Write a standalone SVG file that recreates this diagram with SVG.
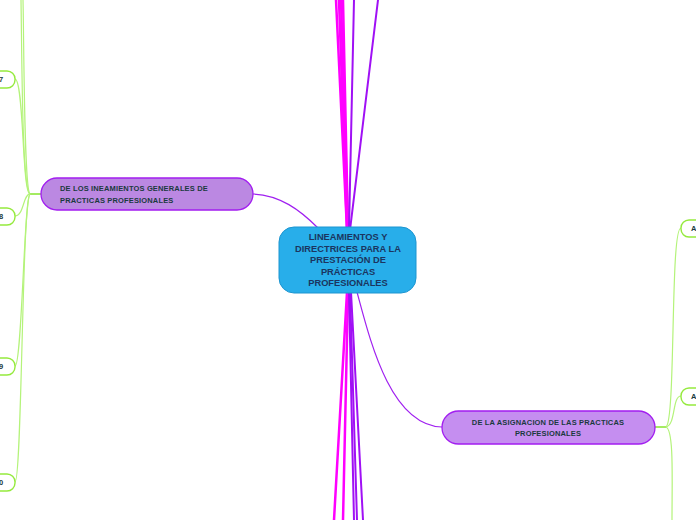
<svg xmlns="http://www.w3.org/2000/svg" width="696" height="520" viewBox="0 0 696 520">
<style>
.mg{fill:none;stroke:#ff00ff;stroke-width:2.5;stroke-linecap:round}
.pu{fill:none;stroke:#a010f5;stroke-width:2;stroke-linecap:round}
.pt{fill:none;stroke:#a020f0;stroke-width:1.2}
.gl{fill:none;stroke:#b4f37a;stroke-width:1.2}
.gs{fill:none;stroke:#8ee63a;stroke-width:1.6}
.leaf{fill:#ffffff;stroke:#95ea3e;stroke-width:1.4}
.lt{font-family:"Liberation Sans",Arial,sans-serif;font-weight:bold;font-size:7.5px;fill:#1b3a40}
.sub{fill:#bb88e2;stroke:#a21df0;stroke-width:1.3}
.subr{fill:#c58ef0;stroke:#a21df0;stroke-width:1.3}
.st{font-family:"Liberation Sans",Arial,sans-serif;font-weight:bold;font-size:7.5px;letter-spacing:0.15px;fill:#1a3a3e}
.ct{font-family:"Liberation Sans",Arial,sans-serif;font-weight:bold;font-size:9.3px;fill:#1b3560;text-anchor:middle}
</style>
<g id="connectors">
<path class="mg" d="M347,230 L336,0"/>
<path class="mg" d="M347,230 L339,0"/>
<path class="mg" d="M348,230 L341,0"/>
<path class="mg" d="M348,230 L343,0"/>
<path class="pu" d="M349,230 L354,0"/>
<path class="pu" d="M350,230 L378,0"/>
<path class="mg" d="M347,292 L334,520"/>
<path class="mg" d="M348,292 L343,520"/>
<path class="pu" d="M349,292 L354,520"/>
<path class="pu" d="M350,292 L357,520"/>
<path class="pu" d="M351,292 L363,520"/>
<path class="pt" d="M318,228 C300,210 280,195 253,194"/>
<path class="pt" d="M357,292 C370,340 390,425 442,427"/>
<path class="gs" d="M41,194 L30,194"/>
<path class="gl" d="M30,194 C22,190 22,60 21,0"/>
<path class="gl" d="M30,194 C24,190 24,40 23,0"/>
<path class="gl" d="M30,194 C22,194 24,79 15,79"/>
<path class="gl" d="M30,194 C23,194 24,216 15,216"/>
<path class="gl" d="M30,194 C24,198 22,366 15,366"/>
<path class="gl" d="M30,194 C22,200 22,482 15,482"/>
<path class="gs" d="M655,427 L666,427"/>
<path class="gl" d="M666,427 C676,420 670,228 681,228"/>
<path class="gl" d="M666,427 C676,425 672,396 681,396"/>
<path class="gl" d="M666,427 C674,430 672,480 672,520"/>
</g>
<g id="leaf7"><rect class="leaf" x="-20" y="71" width="35" height="17" rx="8"/><text class="lt" x="-1" y="82">7</text></g>
<g id="leaf8"><rect class="leaf" x="-20" y="208" width="35" height="17" rx="8"/><text class="lt" x="-1" y="219">8</text></g>
<g id="leaf9"><rect class="leaf" x="-20" y="358" width="35" height="17" rx="8"/><text class="lt" x="-1" y="369">9</text></g>
<g id="leaf0"><rect class="leaf" x="-20" y="474" width="35" height="17" rx="8"/><text class="lt" x="-1" y="485">0</text></g>
<g id="leafA1"><rect class="leaf" x="681" y="220" width="40" height="17" rx="8"/><text class="lt" x="691" y="231">A</text></g>
<g id="leafA2"><rect class="leaf" x="681" y="388" width="40" height="17" rx="8"/><text class="lt" x="691" y="399">A</text></g>
<g id="node-left">
<rect class="sub" x="41" y="178" width="212" height="32" rx="16"/>
<text class="st" x="60" y="191">DE LOS INEAMIENTOS GENERALES DE</text>
<text class="st" x="60" y="202.5">PRACTICAS PROFESIONALES</text>
</g>
<g id="node-right">
<rect class="subr" x="442" y="411" width="213" height="33" rx="16.5"/>
<text class="st" x="548" y="424.5" text-anchor="middle">DE LA ASIGNACION DE LAS PRACTICAS</text>
<text class="st" x="548" y="435.5" text-anchor="middle">PROFESIONALES</text>
</g>
<g id="node-center">
<rect x="279" y="227" width="137" height="66" rx="15" fill="#28aeea" stroke="#1d95d0" stroke-width="1"/>
<text class="ct" x="348" y="240">LINEAMIENTOS Y</text>
<text class="ct" x="348" y="251.5">DIRECTRICES PARA LA</text>
<text class="ct" x="348" y="263">PRESTACIÓN DE</text>
<text class="ct" x="348" y="274.5">PRÁCTICAS</text>
<text class="ct" x="348" y="286">PROFESIONALES</text>
</g>
</svg>
